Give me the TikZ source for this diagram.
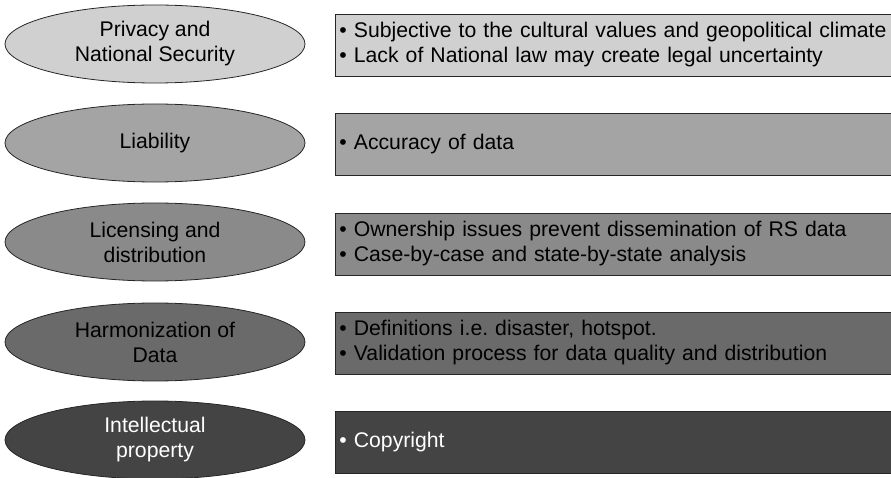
\documentclass[tikz,border=0pt]{standalone}
\usepackage{fontspec}
\setmainfont{Liberation Sans}
\usetikzlibrary{shapes.geometric}

\definecolor{shadeA}{HTML}{D0D0D0}
\definecolor{shadeB}{HTML}{A4A4A4}
\definecolor{shadeC}{HTML}{8A8A8A}
\definecolor{shadeD}{HTML}{6A6A6A}
\definecolor{shadeE}{HTML}{444444}

\begin{document}
\frenchspacing
\begin{tikzpicture}[x=1pt, y=-1pt,
	topic/.style={ellipse, draw=black!85, line width=0.8pt, minimum width=300pt, minimum height=78pt, align=center, inner sep=0pt, font=\fontsize{21.2}{25}\selectfont},
	infobox/.style={rectangle, draw=black!85, line width=0.8pt, anchor=west, minimum height=62pt, text width=552pt, inner sep=4pt, align=left, font=\fontsize{21.2}{25}\selectfont}]
	\useasboundingbox (0,0) rectangle (891,478);

	\node[topic, fill=shadeA] (privacy) at (155,44) {Privacy and\\National Security};
	\node[topic, fill=shadeB] (liability) at (155,143) {Liability};
	\node[topic, fill=shadeC] (licensing) at (155,242) {Licensing and\\distribution};
	\node[topic, fill=shadeD] (harmonization) at (155,342) {Harmonization of\\Data};
	\node[topic, fill=shadeE, text=white] (intellectual) at (155,440) {Intellectual\\property};

	\node[infobox, fill=shadeA] (privacyinfo) at (335,45) {\textbullet\ Subjective to the cultural values and geopolitical climate\\\textbullet\ Lack of National law may create legal uncertainty};
	\node[infobox, fill=shadeB] (liabilityinfo) at (335,144) {\textbullet\ Accuracy of data};
	\node[infobox, fill=shadeC] (licensinginfo) at (335,244) {\textbullet\ Ownership issues prevent dissemination of RS data\\\textbullet\ Case-by-case and state-by-state analysis};
	\node[infobox, fill=shadeD] (harmonizationinfo) at (335,343) {\textbullet\ Definitions i.e. disaster, hotspot.\\\textbullet\ Validation process for data quality and distribution};
	\node[infobox, fill=shadeE, text=white] (intellectualinfo) at (335,442.5) {\textbullet\ Copyright};
\end{tikzpicture}
\end{document}
